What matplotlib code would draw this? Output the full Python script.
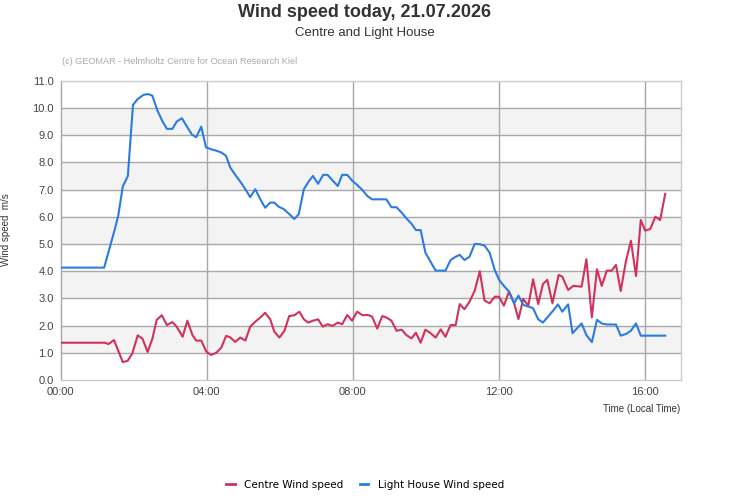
import matplotlib
matplotlib.use("Agg")
import matplotlib.pyplot as plt
from matplotlib import font_manager
from matplotlib.lines import Line2D

# ---------------- data ----------------
centre_hours = [0.00, 1.21, 1.31, 1.46, 1.70, 1.83, 1.96, 2.11, 2.24, 2.38, 2.51, 2.63, 2.77, 2.91,
                3.06, 3.18, 3.34, 3.47, 3.61, 3.71, 3.85, 3.99, 4.12, 4.26, 4.40, 4.53, 4.64, 4.78,
                4.92, 5.06, 5.19, 5.33, 5.47, 5.60, 5.74, 5.85, 5.99, 6.13, 6.26, 6.40, 6.54, 6.66,
                6.78, 6.91, 7.05, 7.18, 7.31, 7.45, 7.59, 7.71, 7.85, 7.98, 8.12, 8.27, 8.41, 8.53,
                8.67, 8.81, 8.92, 9.06, 9.20, 9.34, 9.47, 9.61, 9.73, 9.86, 9.99, 10.13, 10.27, 10.41,
                10.54, 10.68, 10.82, 10.93, 11.06, 11.20, 11.34, 11.48, 11.61, 11.75, 11.89, 12.01,
                12.14, 12.28, 12.42, 12.54, 12.67, 12.81, 12.94, 13.08, 13.21, 13.33, 13.47, 13.64,
                13.74, 13.90, 14.04, 14.27, 14.40, 14.55, 14.69, 14.82, 14.96, 15.09, 15.21, 15.34,
                15.48, 15.62, 15.76, 15.89, 16.01, 16.15, 16.29, 16.42, 16.56]
centre_speed = [1.37, 1.37, 1.32, 1.47, 0.66, 0.70, 0.97, 1.64, 1.52, 1.03, 1.51, 2.21, 2.38, 2.02,
                2.13, 1.95, 1.59, 2.18, 1.65, 1.45, 1.45, 1.04, 0.92, 1.00, 1.19, 1.62, 1.57, 1.40,
                1.56, 1.45, 1.96, 2.14, 2.30, 2.47, 2.23, 1.78, 1.56, 1.81, 2.35, 2.38, 2.51, 2.23,
                2.11, 2.18, 2.23, 1.96, 2.05, 1.99, 2.11, 2.05, 2.39, 2.18, 2.51, 2.38, 2.39, 2.33,
                1.89, 2.35, 2.30, 2.18, 1.81, 1.85, 1.65, 1.53, 1.74, 1.37, 1.85, 1.72, 1.56, 1.86,
                1.59, 2.02, 2.02, 2.79, 2.60, 2.88, 3.28, 4.00, 2.92, 2.82, 3.06, 3.06,
                2.73, 3.25, 2.82, 2.24, 2.98, 2.73, 3.70, 2.79, 3.53, 3.68, 2.82, 3.86,
                3.80, 3.31, 3.46, 3.43, 4.44, 2.30, 4.07, 3.46, 4.02, 4.02, 4.23, 3.27,
                4.35, 5.12, 3.82, 5.88, 5.49, 5.55, 6.00, 5.88, 6.84]

lighthouse_hours = [0.00, 1.19, 1.35, 1.49, 1.58, 1.70, 1.84, 1.98, 2.11, 2.27, 2.40, 2.51, 2.65, 2.79,
                    2.91, 3.06, 3.18, 3.32, 3.46, 3.59, 3.71, 3.85, 3.98, 4.12, 4.26, 4.40, 4.53, 4.64,
                    4.78, 4.92, 5.06, 5.19, 5.33, 5.47, 5.60, 5.74, 5.85, 5.97, 6.11, 6.26, 6.40, 6.52,
                    6.66, 6.79, 6.91, 7.05, 7.19, 7.31, 7.45, 7.59, 7.71, 7.85, 7.98, 8.12, 8.26, 8.40,
                    8.53, 8.92, 9.06, 9.20, 9.34, 9.47, 9.61, 9.73, 9.86, 9.99, 10.13, 10.27, 10.54,
                    10.68, 10.82, 10.93, 11.06, 11.20, 11.34, 11.48, 11.61, 11.75, 11.89, 12.01, 12.14,
                    12.28, 12.42, 12.54, 12.67, 12.81, 12.94, 13.08, 13.21, 13.35, 13.49, 13.62, 13.74,
                    13.90, 14.02, 14.27, 14.40, 14.55, 14.69, 14.82, 14.96, 15.21, 15.34, 15.48, 15.62,
                    15.76, 15.89, 16.56]
lighthouse_speed = [4.13, 4.13, 4.90, 5.58, 6.07, 7.11, 7.50, 10.11, 10.33, 10.48, 10.51, 10.45, 9.90, 9.50,
                    9.23, 9.23, 9.50, 9.62, 9.31, 9.03, 8.92, 9.31, 8.55, 8.48, 8.43, 8.36, 8.24, 7.82,
                    7.54, 7.29, 7.01, 6.72, 7.01, 6.64, 6.33, 6.52, 6.52, 6.37, 6.28, 6.10, 5.92, 6.09,
                    7.01, 7.29, 7.50, 7.21, 7.54, 7.54, 7.33, 7.13, 7.54, 7.54, 7.33, 7.17, 6.99, 6.76,
                    6.64, 6.64, 6.35, 6.35, 6.15, 5.94, 5.74, 5.51, 5.51, 4.68, 4.35, 4.02, 4.02,
                    4.41, 4.53, 4.60, 4.41, 4.53, 5.00, 4.99, 4.94, 4.68, 4.04, 3.68, 3.46,
                    3.25, 2.82, 3.10, 2.76, 2.70, 2.64, 2.23, 2.11, 2.33, 2.55, 2.78, 2.51,
                    2.78, 1.72, 2.08, 1.65, 1.39, 2.21, 2.08, 2.04, 2.04, 1.63, 1.69, 1.81,
                    2.08, 1.63, 1.63]

series_names = ["Centre Wind speed", "Light House Wind speed"]
x_tick_hours = [0, 4, 8, 12, 16]
x_tick_labels = ["00:00", "04:00", "08:00", "12:00", "16:00"]
y_ticks = [0, 1, 2, 3, 4, 5, 6, 7, 8, 9, 10, 11]
y_tick_labels = ["%.1f" % v for v in y_ticks]

title = "Wind speed today, 21.07.2026"
subtitle = "Centre and Light House"
credit = "(c) GEOMAR - Helmholtz Centre for Ocean Research Kiel"

# ---------------- style ----------------
installed = {f.name for f in font_manager.fontManager.ttflist}
narrow = "Liberation Sans Narrow" if "Liberation Sans Narrow" in installed else "Liberation Sans"
base = "Liberation Sans"

RED = "#d2315c"
BLUE = "#2b7be0"
GRID = "#a8a8a8"
BAND = "#f3f3f3"

fig = plt.figure(figsize=(7.31, 5.0), dpi=100)
ax = fig.add_axes([60.7 / 731, 120 / 500, (681.3 - 60.7) / 731, 299.3 / 500])

ax.set_xlim(0, 17)
ax.set_ylim(0, 11)

for lo in (1, 3, 5, 7, 9):
    ax.axhspan(lo, lo + 1, color=BAND, zorder=0, lw=0)
for y in y_ticks[1:-1]:
    ax.axhline(y, color=GRID, lw=1.0, zorder=1)
for x in x_tick_hours[1:]:
    ax.axvline(x, color=GRID, lw=1.0, zorder=1)

ax.plot(centre_hours, centre_speed, color=RED, lw=1.5, zorder=3, solid_joinstyle="round")
ax.plot(lighthouse_hours, lighthouse_speed, color=BLUE, lw=1.5, zorder=3, solid_joinstyle="round")

for s in ("top", "right", "left", "bottom"):
    ax.spines[s].set_color("#cccccc")
    ax.spines[s].set_linewidth(1.0)
ax.spines["left"].set_color(GRID)

ax.set_xticks(x_tick_hours)
ax.set_xticklabels(x_tick_labels, fontfamily=base, fontsize=8, color="#444444")
ax.set_yticks(y_ticks)
ax.set_yticklabels(y_tick_labels, fontfamily=base, fontsize=8, color="#444444")
ax.tick_params(length=0, pad=5)

fig.text(6 / 731, 1 - 230 / 500, "Wind speed  m/s", rotation=90, ha="center", va="center",
         fontfamily=base, fontsize=7, color="#333333")
fig.text(680 / 731, 1 - 409 / 500, "Time (Local Time)", ha="right", va="center",
         fontfamily=base, fontsize=7, color="#333333")

fig.text(365 / 731, 1 - 12.5 / 500, title, ha="center", va="center", fontfamily=narrow,
         fontweight="bold", fontsize=13, color="#333333")
fig.text(365 / 731, 1 - 33 / 500, subtitle, ha="center", va="center", fontfamily=narrow,
         fontsize=9.5, color="#333333")
fig.text(62 / 731, 1 - 61 / 500, credit, ha="left", va="center", fontfamily=narrow,
         fontsize=6.6, color="#aaaaaa")

handles = [Line2D([0], [0], color=RED, lw=2), Line2D([0], [0], color=BLUE, lw=2)]
fig.legend(handles, series_names, loc="center", bbox_to_anchor=(365 / 731, 1 - 485 / 500),
           ncol=2, frameon=False, handlelength=0.8, columnspacing=1.6, handletextpad=0.9,
           prop={"family": "DejaVu Sans", "size": 7.5})

fig.savefig("out.png", dpi=100)
